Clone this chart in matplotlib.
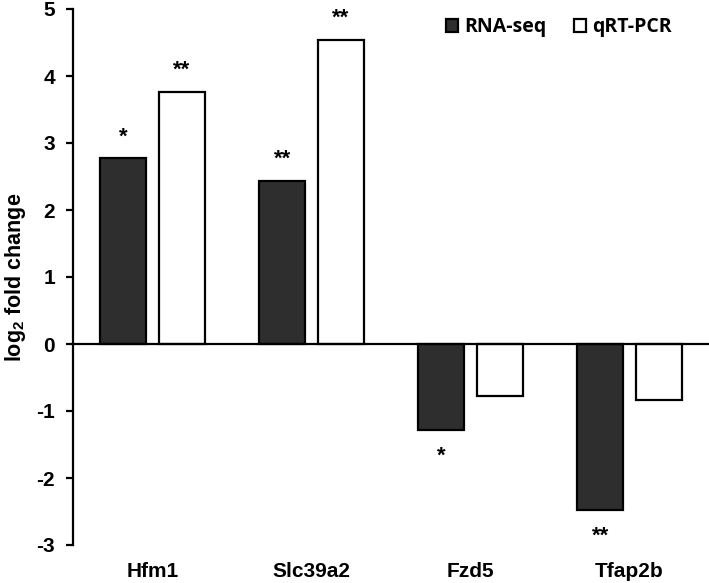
import matplotlib
matplotlib.use("Agg")
import matplotlib.pyplot as plt
from matplotlib.patches import Patch
import numpy as np

genes = ["Hfm1", "Slc39a2", "Fzd5", "Tfap2b"]
rna_seq = [2.77, 2.44, -1.28, -2.48]
qrt_pcr = [3.76, 4.54, -0.77, -0.84]
rna_sig = ["*", "**", "*", "**"]
qrt_sig = ["**", "**", "", ""]
yticks = [-3, -2, -1, 0, 1, 2, 3, 4, 5]

plt.rcParams['mathtext.fontset'] = 'custom'
plt.rcParams['mathtext.rm'] = 'Liberation Sans:bold'
plt.rcParams['mathtext.bf'] = 'Liberation Sans:bold'

fig = plt.figure(figsize=(7.09, 5.83), dpi=100)
ax = fig.add_axes([73/709, 38/583, 1 - 73/709, (545-9)/583])

x = np.arange(len(genes))
w = 0.29
off = 0.183
dark = "#2e2e2e"
ax.bar(x - off, rna_seq, w, color=dark, edgecolor="black", linewidth=1.6, zorder=2)
ax.bar(x + off, qrt_pcr, w, color="white", edgecolor="black", linewidth=1.6, zorder=2)

ax.axhline(0, color="black", linewidth=1.6, zorder=3)

def annotate(xs, vals, sigs):
    for xi, v, s in zip(xs, vals, sigs):
        if not s:
            continue
        dy = 16 if v >= 0 else -32
        ax.annotate(s, (xi, v), xytext=(0, dy), textcoords="offset pixels",
                    ha="center", va="baseline", fontsize=16, fontweight="bold",
                    family="Liberation Sans")

annotate(x - off, rna_seq, rna_sig)
annotate(x + off, qrt_pcr, qrt_sig)

ax.set_xlim(-0.5, 3.5)
ax.set_ylim(-3, 5)
ax.set_yticks(yticks)
ax.set_yticklabels([str(t) for t in yticks], fontsize=15, fontweight="bold",
                   family="Liberation Sans")
ax.set_xticks(x)
ax.set_xticklabels(genes, fontsize=15, fontweight="bold", family="Liberation Sans")
ax.tick_params(axis="x", length=0, pad=12)
ax.tick_params(axis="y", length=5, width=1.6, direction="out", pad=8)

for s in ["top", "right", "bottom"]:
    ax.spines[s].set_visible(False)
ax.spines["left"].set_linewidth(1.6)

ax.set_ylabel("log$_{\\mathbf{2}}$ fold change", fontsize=15.5, fontweight="bold",
              family="Liberation Sans", labelpad=6)

handles = [Patch(facecolor=dark, edgecolor="black", linewidth=1.6, label="RNA-seq"),
           Patch(facecolor="white", edgecolor="black", linewidth=1.6, label="qRT-PCR")]
fig.legend(handles=handles, loc="upper right", bbox_to_anchor=(0.972, 1.0),
           ncol=2, frameon=False, handlelength=0.65, handleheight=0.65,
           handletextpad=0.3, columnspacing=1.4,
           prop={"family": "Open Sans", "weight": "bold", "size": 14})

fig.savefig("out.png", dpi=100)
